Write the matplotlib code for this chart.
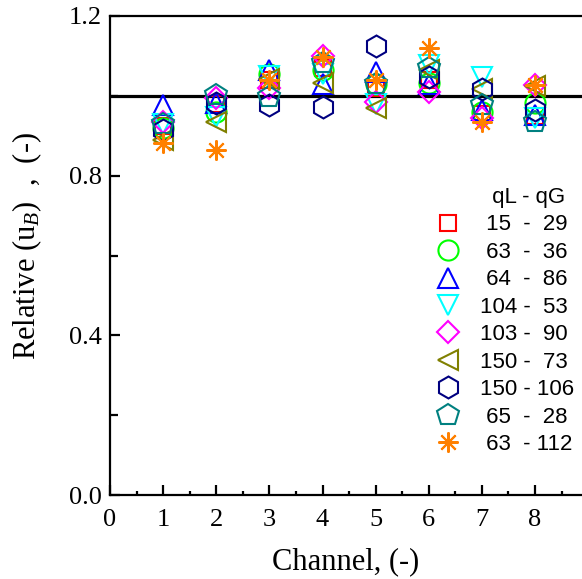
import matplotlib
matplotlib.use("Agg")
import matplotlib.pyplot as plt
from matplotlib.lines import Line2D

plt.rcParams['mathtext.fontset'] = 'custom'
plt.rcParams['mathtext.rm'] = 'Liberation Serif'
plt.rcParams['mathtext.it'] = 'Liberation Serif:italic'

channels = [1, 2, 3, 4, 5, 6, 7, 8]

qL = [15, 63, 64, 104, 103, 150, 150, 65, 63]
qG = [29, 36, 86, 53, 90, 73, 106, 28, 112]

s_15_29   = [0.925, 0.980, 1.040, 1.070, 1.020, 1.040, 0.955, 0.950]
s_63_36   = [0.920, 0.960, 1.055, 1.065, 1.030, 1.032, 0.960, 0.982]
s_64_86   = [0.977, 0.982, 1.065, 1.030, 1.060, 1.030, 0.964, 0.952]
s_104_53  = [0.930, 0.947, 1.050, 1.055, 0.980, 1.077, 1.047, 0.945]
s_103_90  = [0.934, 0.994, 1.020, 1.100, 0.985, 1.010, 0.944, 1.027]
s_150_73  = [0.889, 0.934, 1.042, 1.032, 0.969, 1.065, 1.017, 1.025]
s_150_106 = [0.914, 0.982, 0.977, 0.972, 1.125, 1.047, 1.017, 0.964]
s_65_28   = [0.930, 1.002, 0.997, 1.082, 1.030, 1.070, 0.977, 0.934]
s_63_112  = [0.882, 0.864, 1.040, 1.097, 1.040, 1.120, 0.934, 1.027]

series = [s_15_29, s_63_36, s_64_86, s_104_53, s_103_90,
          s_150_73, s_150_106, s_65_28, s_63_112]
markers = ['s', 'o', '^', 'v', 'D', '<', 'h', 'p', (8, 2, 0)]
sizes = [12, 14.5, 15, 15, 11.7, 14.5, 15.8, 16.5, 14.5]
colors = ['#FF0000', '#00FF00', '#0000FF', '#00FFFF', '#FF00FF',
          '#808000', '#000080', '#008080', '#FF8000']

def pad(n):
    s = str(n)
    return s if len(s) == 3 else ' ' + s + ' '

fig = plt.figure(figsize=(5.82, 5.79), dpi=100)
ax = fig.add_axes([110/582, 84/579, 472/582, 479/579])

ax.axhline(1.0, color='black', lw=2.3, zorder=1)

handles = [Line2D([], [], linestyle='none', marker=None)]
labels = ['  qL - qG']
for vals, m, ms, c, a, b in zip(series, markers, sizes, colors, qL, qG):
    h, = ax.plot(channels, vals, linestyle='none', marker=m, markersize=ms,
                 markerfacecolor='none', markeredgecolor=c, markeredgewidth=1.5,
                 color=c, zorder=3)
    handles.append(h)
    labels.append(pad(a) + ' - ' + pad(b))

ax.set_xlim(0, 472/53.125)
ax.set_ylim(0, 1.2)
ax.set_xticks(range(0, 9))
ax.set_xticks([i + 0.5 for i in range(0, 9)], minor=True)
ax.set_yticks([0.0, 0.4, 0.8, 1.2])
ax.set_yticks([0.2, 0.6, 1.0], minor=True)
ax.set_yticklabels(['0.0', '0.4', '0.8', '1.2'])

for sp in ['left', 'bottom', 'top']:
    ax.spines[sp].set_linewidth(1.6)
ax.spines['right'].set_visible(False)

ax.tick_params(axis='both', which='both', direction='in', width=1.6,
               top=False, right=False)
ax.tick_params(axis='y', which='major', length=7, pad=6)
ax.tick_params(axis='y', which='minor', length=6)
ax.tick_params(axis='x', which='major', length=7, pad=10)
ax.tick_params(axis='x', which='minor', length=3)
for lab in ax.get_xticklabels() + ax.get_yticklabels():
    lab.set_fontfamily('Liberation Serif')
    lab.set_fontsize(19)

ax.set_xlabel('Channel, (-)', fontfamily='Liberation Serif', fontsize=22)
ax.set_ylabel(r'Relative (u$_\mathit{B}$)  ,  (-)', fontfamily='Liberation Serif', fontsize=22)
ax.xaxis.set_label_coords(0.5, -0.11)
ax.yaxis.set_label_coords(-0.14, 0.52)

leg = ax.legend(handles, labels, loc='upper left', bbox_to_anchor=(0.688, 0.643),
                frameon=False, prop={'family': 'Liberation Sans', 'size': 16},
                handlelength=1.2, handletextpad=0.84, labelspacing=0.29,
                borderaxespad=0, borderpad=0)

fig.savefig('out.png', dpi=100)
